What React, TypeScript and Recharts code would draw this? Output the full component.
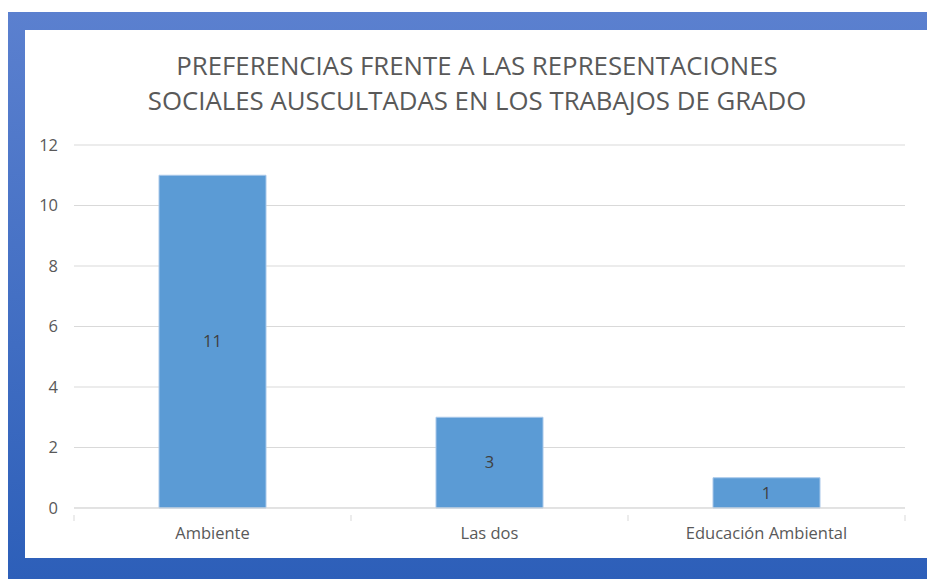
import React from "react";
import { BarChart, Bar, XAxis, YAxis, CartesianGrid, LabelList } from "recharts";

const categories = ["Ambiente", "Las dos", "Educación Ambiental"];
const counts = [11, 3, 1];
const yTicks = [0, 2, 4, 6, 8, 10, 12];
const titleLines = [
  "PREFERENCIAS FRENTE A LAS REPRESENTACIONES",
  "SOCIALES AUSCULTADAS EN LOS TRABAJOS DE GRADO",
];

const data = categories.map((name, i) => ({ name, value: counts[i] }));

const FONT = "'Open Sans', sans-serif";
const AXIS_GRAY = "#d9d9d9";

// category label plus the little boundary ticks Excel draws between bands
const CategoryTick = (props: any) => {
  const { x, y, payload, index, visibleTicksCount } = props;
  const half = payload.offset ?? 0;
  const isLast = index === visibleTicksCount - 1;
  return (
    <g>
      <line x1={x - half} x2={x - half} y1={y - 1} y2={y + 5} stroke={AXIS_GRAY} />
      {isLast && <line x1={x + half} x2={x + half} y1={y - 1} y2={y + 5} stroke={AXIS_GRAY} />}
      <text x={x} y={y + 23} textAnchor="middle" fill="#595959" fontSize={16.5} fontFamily={FONT}>
        {payload.value}
      </text>
    </g>
  );
};

export default function App() {
  return (
    <div
      style={{
        position: "relative",
        marginTop: 4,
        width: 927,
        height: 567,
        background: "linear-gradient(180deg, #5b80cf 0%, #4470c4 50%, #2d5fb9 100%)",
      }}
    >
      <div
        style={{
          position: "absolute",
          left: 17,
          top: 18,
          width: 904,
          height: 528,
          background: "#fff",
        }}
      >
        <div
          style={{
            position: "absolute",
            left: 0,
            top: 18,
            width: "100%",
            textAlign: "center",
            fontFamily: FONT,
            fontSize: 25.8,
            lineHeight: "35px",
            color: "#595959",
          }}
        >
          {titleLines.map((t) => (
            <div key={t}>{t}</div>
          ))}
        </div>
        <BarChart
          width={904}
          height={528}
          data={data}
          margin={{ top: 115, right: 24, bottom: 20, left: 9 }}
        >
          <CartesianGrid vertical={false} stroke={AXIS_GRAY} />
          <XAxis
            dataKey="name"
            height={30}
            axisLine={{ stroke: AXIS_GRAY }}
            tickLine={false}
            tick={<CategoryTick />}
            interval={0}
          />
          <YAxis
            width={40}
            domain={[0, 12]}
            ticks={yTicks}
            axisLine={false}
            tickLine={false}
            tickSize={0}
            tickMargin={16}
            tick={{ fill: "#595959", fontSize: 16.5, fontFamily: FONT }}
          />
          <Bar dataKey="value" fill="#5b9bd5" stroke="#a9c8ea" strokeWidth={1} barSize={107} isAnimationActive={false}>
            <LabelList dataKey="value" position="center" fill="#404040" fontSize={16.5} fontFamily={FONT} />
          </Bar>
        </BarChart>
      </div>
    </div>
  );
}
